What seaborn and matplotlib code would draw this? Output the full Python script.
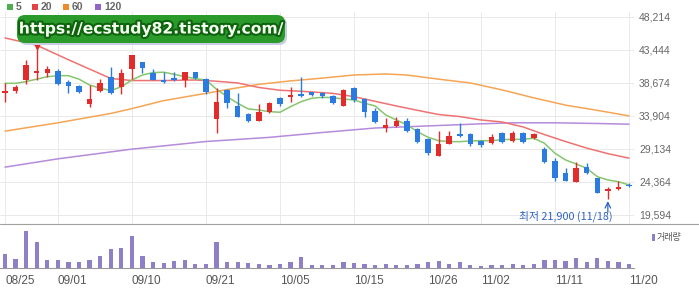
import matplotlib
matplotlib.use("Agg")
import matplotlib.pyplot as plt
import matplotlib.patheffects as pe
from matplotlib.patches import Rectangle, FancyBboxPatch
from matplotlib.lines import Line2D
from matplotlib.transforms import IdentityTransform
import numpy as np
import pandas as pd
import seaborn as sns

# ---------------- data ----------------
dates = ["08/25", "08/26", "08/27", "08/28", "08/31",
         "09/01", "09/02", "09/03", "09/04", "09/07", "09/08", "09/09", "09/10", "09/11",
         "09/14", "09/15", "09/16", "09/17", "09/18", "09/21", "09/22", "09/23", "09/24",
         "09/25", "09/28", "09/29",
         "10/05", "10/06", "10/07", "10/08", "10/12", "10/13", "10/14", "10/15", "10/16",
         "10/19", "10/20", "10/21", "10/22", "10/23", "10/26", "10/27", "10/28", "10/29", "10/30",
         "11/02", "11/03", "11/04", "11/05", "11/06", "11/09", "11/10", "11/11", "11/12",
         "11/13", "11/16", "11/17", "11/18", "11/19", "11/20"]

opens = [37200, 37500, 39100, 40050, 40150, 40400, 38850, 38200, 35600, 37550,
         39550, 38100, 40600, 41650, 40150, 39100, 39300, 39100, 40200, 39200,
         33400, 37650, 35300, 34150, 33150, 34400, 36500, 36600, 37050, 37300,
         37250, 36750, 35350, 37950, 36350, 34650, 32100, 32450, 33200, 31950,
         30550, 28100, 29850, 31300, 31250, 30300, 29950, 31400, 30300, 31500,
         30650, 29100, 27400, 25700, 24400, 26550, 24900, 23100, 23400, 23950]
highs = [38700, 38350, 41950, 44000, 41100, 40600, 39100, 38350, 38350, 39200,
         41000, 40600, 42700, 41700, 40600, 40250, 40250, 40250, 40300, 39350,
         37900, 37750, 37150, 34350, 35550, 35850, 36650, 38100, 39550, 37400,
         37350, 36900, 37750, 38100, 36500, 35000, 33550, 33800, 33550, 32100,
         30750, 31750, 31750, 32850, 31400, 30400, 31250, 31550, 31750, 31600,
         31500, 29450, 27800, 26350, 27300, 27050, 25000, 23600, 24550, 24150]
lows = [35950, 37150, 38500, 39100, 39550, 38350, 37250, 37250, 35250, 37400,
        37050, 37050, 39200, 40150, 39050, 38700, 39000, 38050, 39200, 37000,
        31500, 35000, 33700, 33050, 33100, 34350, 35350, 35950, 36600, 36750,
        36450, 35550, 35300, 35850, 33800, 32850, 31600, 32350, 31600, 29950,
        28250, 28050, 29800, 30900, 29550, 29450, 29850, 29950, 30100, 29950,
        30550, 27050, 24550, 24450, 24350, 25500, 22750, 21900, 23200, 23700]
closes = [37500, 38050, 41250, 40350, 40600, 38500, 38200, 37350, 36400, 38600,
          37250, 40050, 42700, 40750, 39100, 38750, 39100, 40250, 39300, 37400,
          35950, 35700, 33800, 33200, 34500, 35700, 35550, 36900, 36850, 36900,
          36750, 35700, 37650, 36200, 34500, 33000, 32550, 33200, 31750, 30200,
          28500, 29850, 31000, 31050, 29800, 29700, 30900, 30150, 31400, 30200,
          31300, 27300, 24900, 24550, 26350, 25600, 22800, 23300, 23600, 23750]
volumes = [1370, 930, 3670, 2570, 770, 770, 570, 570, 770, 1170,
           1870, 1970, 3170, 1170, 570, 470, 670, 770, 370, 370,
           2570, 570, 570, 470, 370, 270, 370, 570, 1070, 270,
           270, 270, 570, 500, 370, 300, 370, 270, 270, 370,
           570, 670, 400, 570, 270, 170, 330, 270, 370, 270,
           370, 830, 830, 670, 970, 570, 970, 670, 570, 400]

ma5 = [38600, 38600, 38850, 39200, 39550, 39700, 39700, 39200, 38350, 37900,
       37550, 38100, 39080, 39800, 40150, 40200, 39900, 39560, 39270, 39080,
       37740, 36670, 35720, 34900, 34750, 34510, 34420, 35230, 35950, 36440,
       36580, 36530, 36340, 36190, 35720, 35330, 34030, 33310, 32590, 31620,
       30810, 30320, 30180, 30180, 30280, 30320, 30320, 30470, 30520, 30520,
       30670, 29950, 28500, 27540, 26960, 26340, 25130, 24650, 24400, 23930]

ma20_dates = ["08/25", "08/28", "08/31", "09/02", "09/04", "09/08", "09/10", "09/15",
              "09/18", "09/22", "09/24", "09/28", "10/05", "10/07", "10/13", "10/15",
              "10/19", "10/21", "10/23", "10/27", "10/29", "11/02", "11/04", "11/06",
              "11/10", "11/12", "11/16", "11/18", "11/20"]
ma20 = [45150, 44100, 43400, 42000, 40650, 39300, 39000, 39000,
        39080, 38900, 38650, 38000, 37600, 37450, 37150, 36670,
        36000, 35330, 34700, 34100, 33800, 33310, 33020, 32300,
        31200, 30200, 29250, 28450, 27800]

ma60_dates = ["08/25", "09/01", "09/08", "09/10", "09/15", "09/21", "09/23", "09/28",
              "10/06", "10/12", "10/15", "10/20", "10/22", "10/27", "10/30", "11/04",
              "11/09", "11/12", "11/17", "11/20"]
ma60 = [31700, 32900, 34250, 34950, 36100, 37150, 37700, 38450,
        38950, 39350, 39800, 39950, 39800, 39200, 38650, 37650,
        36500, 35450, 34700, 33900]

ma120_dates = ["08/25", "09/01", "09/10", "09/21", "09/29", "10/12", "10/19", "10/26",
               "11/02", "11/05", "11/11", "11/17", "11/20"]
ma120 = [26500, 27700, 29100, 30200, 30800, 31500, 32150, 32450,
         32750, 32900, 32900, 32800, 32700]

tick_labels = ["08/25", "09/01", "09/10", "09/21", "10/05", "10/15", "10/26",
               "11/02", "11/11", "11/20"]
yticks = [19594, 24364, 29134, 33904, 38674, 43444, 48214]

legend_names = ["5", "20", "60", "120"]
low_label = "최저 21,900 (11/18)"
watermark = "https://ecstudy82.tistory.com/"

# ---------------- style ----------------
sns.set_style("white")
plt.rcParams["font.family"] = ["Liberation Sans", "Noto Sans CJK KR", "DejaVu Sans"]

RED, BLUE = "#e22b2b", "#2c7be0"
C_MA5, C_MA20, C_MA60, C_MA120 = "#86c66c", "#ef7272", "#f6a554", "#b58bdb"
C_VOL = "#8f7fc6"

W, H = 699, 288
fig = plt.figure(figsize=(W / 100, H / 100), dpi=100)
fig.patch.set_facecolor("white")


def fx(px):
    return px / W


def fy(py):
    return 1 - py / H


ax = fig.add_axes([0, fy(224), fx(634), (224 - 12) / H])
axv = fig.add_axes([0, fy(268), fx(634), (268 - 226) / H])

pos = {d: i for i, d in enumerate(dates)}
df = pd.DataFrame(dict(date=dates, open=opens, high=highs, low=lows,
                       close=closes, volume=volumes, ma5=ma5))
df["x"] = np.arange(len(df))
up = df["close"] >= df["open"]
cols = np.where(up, RED, BLUE)

xlim = (-0.473, len(df) - 1 + 0.473)

# moving averages
for dts, vals, c in [(ma120_dates, ma120, C_MA120), (ma60_dates, ma60, C_MA60),
                     (ma20_dates, ma20, C_MA20), (dates, ma5, C_MA5)]:
    sns.lineplot(x=[pos[d] for d in dts], y=vals, ax=ax, color=c,
                 linewidth=1.1, zorder=2, legend=False)

# candles
ax.vlines(df["x"], df["low"], df["high"], colors=cols, linewidth=1.0, zorder=3)
body_h = np.maximum((df["close"] - df["open"]).abs(), 230)
body_b = (df["open"] + df["close"]) / 2 - body_h / 2
ax.bar(df["x"], body_h, bottom=body_b, width=0.52, color=cols, linewidth=0, zorder=4)

# high marker
ih = int(np.argmax(highs))
ax.plot([ih], [highs[ih]], marker="v", markersize=4.5, color=RED, zorder=5,
        linestyle="none")

# low annotation
il = int(np.argmin(lows))
ax.annotate("", xy=(il, lows[il]), xytext=(0, -9.5), textcoords="offset points",
            arrowprops=dict(arrowstyle="->", color="#2d62c4", lw=0.9,
                            shrinkA=0, shrinkB=1.5), zorder=6)
ax.annotate(low_label, xy=(il, lows[il]), xytext=(3.5, -12.5),
            textcoords="offset points", ha="right", va="center",
            fontsize=7.8, color="#2d62c4",
            family=["Noto Sans CJK KR", "DejaVu Sans"], zorder=6)

ax.set_xlim(xlim)
ax.set_ylim(18295, 48892)
ax.set_xticks([pos[t] for t in tick_labels])
ax.set_xticklabels([])
ax.tick_params(axis="x", length=0)
ax.set_yticks(yticks)
ax.set_yticklabels([f"{v:,}" for v in yticks])
ax.yaxis.tick_right()
ax.tick_params(axis="y", length=0, pad=3.6, labelsize=7.5, labelcolor="#666666")
ax.grid(True, color="#e9e9e9", linewidth=0.7)
ax.set_axisbelow(True)
for s in ax.spines.values():
    s.set_visible(False)
ax.set_xlabel("")
ax.set_ylabel("")

# volume
axv.bar(df["x"], df["volume"], width=0.4, color=C_VOL, linewidth=0)
axv.set_xlim(xlim)
axv.set_ylim(0, 4200)
axv.set_yticks([])
axv.set_xticks([pos[t] for t in tick_labels])
axv.set_xticklabels(tick_labels, ha="left")
axv.tick_params(axis="x", length=3, width=0.7, color="#999999", pad=2,
                labelsize=8.5, labelcolor="#555555")
for k in ["top", "left", "right"]:
    axv.spines[k].set_visible(False)
axv.spines["bottom"].set_color("#9a9a9a")
axv.spines["bottom"].set_linewidth(0.8)
axv.grid(False)
axv.set_xlabel("")
axv.set_ylabel("")

# separator line between panels
fig.add_artist(Line2D([0, 1], [fy(224), fy(224)], transform=fig.transFigure,
                      color="#a0a0a0", linewidth=0.8))

# volume legend
fig.add_artist(Rectangle((fx(652), fy(241)), fx(3), 7 / H, transform=fig.transFigure,
                         color=C_VOL, linewidth=0))
fig.text(fx(657), fy(237.5), "거래량", fontsize=6.5, color="#555555",
         family=["Noto Sans CJK KR", "DejaVu Sans"], va="center", ha="left")

# top legend
leg_cols = ["#4fae4f", "#e24343", "#f08a26", "#9463c6"]
leg_sq_x = [7, 32, 63, 95]
for name, c, x0 in zip(legend_names, leg_cols, leg_sq_x):
    fig.add_artist(Rectangle((fx(x0), fy(10)), fx(6), 6 / H, transform=fig.transFigure,
                             color=c, linewidth=0))
    fig.text(fx(x0 + 9), fy(7), name, fontsize=7.5, fontweight="bold",
             color="#666666", va="center", ha="left")

# watermark
fig.add_artist(FancyBboxPatch((19, H - 45), 268, 28,
                              boxstyle="round,pad=0,rounding_size=8",
                              transform=IdentityTransform(), fc="#c8cde2", ec="none"))
fig.add_artist(FancyBboxPatch((17, H - 43), 268, 28,
                              boxstyle="round,pad=0,rounding_size=8",
                              transform=IdentityTransform(), fc="#2a9a2a", ec="none"))
fig.text(fx(151), fy(29), watermark, fontsize=11.2, fontweight="bold",
         family="DejaVu Sans", color="#f4fff0", ha="center", va="center",
         path_effects=[pe.Stroke(linewidth=3, foreground="#0d640d"), pe.Normal()])

fig.savefig("out.png", dpi=100, facecolor="white")
